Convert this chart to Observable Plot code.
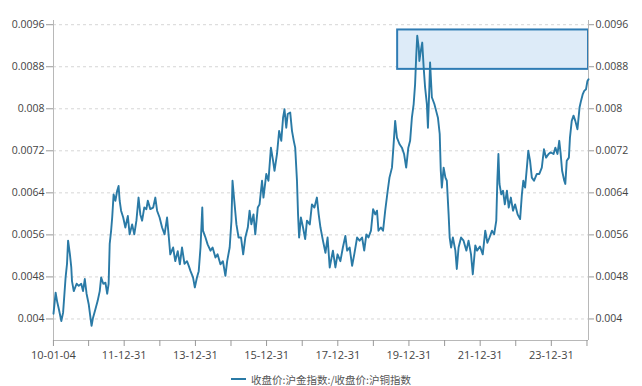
<!DOCTYPE html>
<html><head><meta charset="utf-8">
<script src="https://cdn.jsdelivr.net/npm/d3@7"></script>
<script src="https://cdn.jsdelivr.net/npm/@observablehq/plot@0.6"></script>
<style>
body{margin:0;background:#fff;}
#legend{display:flex;justify-content:center;align-items:center;height:22px;font-family:"Noto Sans CJK SC","Open Sans",sans-serif;font-size:10.5px;color:#555;}
#legend .sw{display:inline-block;width:15px;height:2px;margin-right:5px;}
</style></head><body>
<div id="chart"></div>
<div id="legend"></div>
<script>
// decimal years (one row per year)
const dateYears = [
 2010.01,2010.07,2010.11,2010.16,2010.23,2010.28,2010.35,2010.39,2010.42,2010.47,2010.51,2010.53,2010.58,2010.66,2010.72,2010.79,2010.84,2010.89,2010.94,
 2011.00,2011.05,2011.08,2011.12,2011.19,2011.25,2011.31,2011.35,2011.41,2011.47,2011.52,2011.56,2011.59,2011.63,2011.66,2011.70,2011.75,2011.80,2011.84,2011.87,2011.91,2011.97,
 2012.03,2012.10,2012.15,2012.22,2012.28,2012.34,2012.40,2012.45,2012.50,2012.56,2012.62,2012.66,2012.73,2012.81,2012.87,2012.92,2012.99,
 2013.06,2013.13,2013.20,2013.25,2013.29,2013.37,2013.43,2013.50,2013.56,2013.62,2013.69,2013.76,2013.81,2013.86,2013.93,2013.98,
 2014.04,2014.09,2014.14,2014.19,2014.21,2014.28,2014.34,2014.42,2014.48,2014.56,2014.62,2014.70,2014.77,2014.84,2014.89,2014.96,
 2015.01,2015.04,2015.09,2015.15,2015.21,2015.28,2015.34,2015.40,2015.47,2015.52,2015.57,2015.63,2015.68,2015.75,2015.80,2015.87,2015.91,2015.99,
 2016.05,2016.12,2016.18,2016.22,2016.29,2016.35,2016.41,2016.46,2016.50,2016.55,2016.59,2016.66,2016.71,2016.76,2016.80,2016.85,2016.88,2016.91,2016.96,
 2017.02,2017.08,2017.13,2017.21,2017.27,2017.34,2017.41,2017.46,2017.51,2017.58,2017.65,2017.71,2017.77,2017.86,2017.93,2017.99,
 2018.07,2018.14,2018.21,2018.26,2018.33,2018.40,2018.46,2018.54,2018.61,2018.68,2018.74,2018.80,2018.86,2018.93,2018.99,
 2019.05,2019.10,2019.14,2019.21,2019.27,2019.33,2019.40,2019.45,2019.52,2019.56,2019.61,2019.66,2019.73,2019.80,2019.86,2019.92,2019.98,
 2020.03,2020.08,2020.13,2020.17,2020.20,2020.23,2020.27,2020.29,2020.33,2020.37,2020.41,2020.45,2020.50,2020.53,2020.57,2020.59,2020.64,2020.71,2020.76,2020.81,2020.86,2020.89,2020.92,2020.97,
 2021.02,2021.06,2021.11,2021.14,2021.18,2021.23,2021.30,2021.34,2021.39,2021.46,2021.53,2021.61,2021.67,2021.74,2021.79,2021.86,2021.91,2021.99,
 2022.07,2022.14,2022.20,2022.26,2022.33,2022.39,2022.45,2022.48,2022.51,2022.54,2022.59,2022.64,2022.69,2022.75,2022.80,2022.86,2022.92,2022.98,
 2023.05,2023.12,2023.17,2023.21,2023.26,2023.31,2023.35,2023.40,2023.45,2023.51,2023.59,2023.66,2023.73,2023.79,2023.85,2023.92,2023.98,
 2024.06,2024.11,2024.17,2024.22,2024.26,2024.30,2024.36,2024.39,2024.43,2024.49,2024.52,2024.57,2024.62,2024.67,2024.73,2024.79,2024.83,2024.88,2024.92,2024.97,2025.01,2025.04
];
// 收盘价:沪金指数 / 收盘价:沪铜指数
const ratio = [
 .00410,.00450,.00434,.00419,.00396,.00412,.00479,.00505,.00549,.00524,.00498,.00472,.00453,.00467,.00463,.00467,.00453,.00476,.00448,
 .00428,.00402,.00387,.00402,.00419,.00434,.00453,.00479,.00467,.00469,.00448,.00467,.00543,.00568,.00593,.00637,.00625,.00644,.00653,.00625,.00606,.00593,
 .00574,.00596,.00561,.00580,.00561,.00587,.00631,.00599,.00587,.00612,.00609,.00625,.00609,.00612,.00631,.00606,.00593,
 .00574,.00561,.00593,.00555,.00523,.00536,.00510,.00529,.00504,.00536,.00505,.00510,.00501,.00491,.00479,.00460,
 .00479,.00491,.00536,.00612,.00568,.00555,.00542,.00530,.00536,.00517,.00523,.00504,.00510,.00482,.00510,.00536,
 .00587,.00663,.00625,.00580,.00555,.00555,.00523,.00555,.00574,.00606,.00580,.00599,.00561,.00612,.00618,.00663,.00631,.00676,
 .00663,.00726,.00701,.00682,.00714,.00758,.00739,.00783,.00799,.00764,.00790,.00793,.00758,.00739,.00726,.00663,.00599,.00555,.00593,
 .00574,.00552,.00587,.00580,.00618,.00612,.00631,.00599,.00574,.00549,.00526,.00555,.00498,.00530,.00498,.00523,
 .00510,.00536,.00558,.00530,.00536,.00501,.00523,.00555,.00549,.00555,.00530,.00561,.00555,.00568,.00609,
 .00599,.00606,.00568,.00574,.00568,.00606,.00644,.00669,.00688,.00726,.00777,.00745,.00733,.00726,.00714,.00688,.00726,
 .00739,.00783,.00809,.00847,.00898,.00939,.00917,.00891,.00910,.00926,.00879,.00841,.00809,.00764,.00841,.00888,.00822,.00809,.00796,.00783,.00752,.00682,.00650,.00688,
 .00669,.00663,.00599,.00555,.00536,.00555,.00530,.00495,.00536,.00555,.00549,.00530,.00549,.00523,.00485,.00540,.00530,.00538,
 .00523,.00568,.00545,.00555,.00568,.00561,.00587,.00663,.00714,.00657,.00637,.00644,.00618,.00644,.00612,.00631,.00606,.00618,
 .00599,.00590,.00637,.00663,.00650,.00688,.00720,.00701,.00669,.00663,.00676,.00676,.00688,.00723,.00707,.00714,.00717,
 .00714,.00726,.00714,.00739,.00714,.00682,.00663,.00657,.00701,.00707,.00745,.00777,.00787,.00777,.00761,.00803,.00815,.00828,.00834,.00837,.00853,.00856
];
const seriesName = "收盘价:沪金指数:/收盘价:沪铜指数";
const xTicks = ["2010-01-04","2010-12-31","2011-12-31","2012-12-31","2013-12-31","2014-12-31","2015-12-31","2016-12-31","2017-12-31","2018-12-31","2019-12-31","2020-12-31","2021-12-31","2022-12-31","2023-12-31","2024-12-31"];
const xTickLabels = ["10-01-04","11-12-31","13-12-31","15-12-31","17-12-31","19-12-31","21-12-31","23-12-31"];
const yTicks = [0.004,0.0048,0.0056,0.0064,0.0072,0.008,0.0088,0.0096];
const yDomain = [0.00359,0.00968];
const xDomainYears = [2010.01,2025.04];
const box = {from:2019.68, to:2025.04, low:0.00875, high:0.0095};

const lineColor = "#2a7aa6";
function toDate(y){const yr=Math.floor(y);const s=Date.UTC(yr,0,1),e=Date.UTC(yr+1,0,1);return new Date(s+(y-yr)*(e-s));}
const data = dateYears.map((y,i)=>({date:toDate(y), v:ratio[i]}));
const xStart = toDate(xDomainYears[0]), xEnd = toDate(xDomainYears[1]);
const fmt = d3.utcFormat("%y-%m-%d");
const xFmt = d => {const s=fmt(d);return xTickLabels.includes(s)?s:"";};
const yFmt = d => String(+d.toFixed(4));
const boxData = [{x1:toDate(box.from), x2:toDate(box.to), y1:box.low, y2:box.high}];

const chart = Plot.plot({
  width:642, height:368, marginTop:20, marginBottom:28, marginLeft:53, marginRight:54,
  style:{fontFamily:"'Open Sans','Liberation Sans',sans-serif", fontSize:"11px", background:"#fff"},
  x:{type:"utc", domain:[xStart,xEnd]},
  y:{domain:yDomain},
  marks:[
    Plot.gridY(yTicks,{stroke:"#d6d6d6", strokeOpacity:1, strokeDasharray:"3,3"}),
    Plot.rect(boxData,{x1:"x1",x2:"x2",y1:"y1",y2:"y2",fill:"#ddebf8",stroke:"#2f7cb4",strokeWidth:2}),
    Plot.ruleX([xStart,xEnd],{stroke:"#b8b8b8"}),
    Plot.ruleY([yDomain[0]],{stroke:"#b8b8b8"}),
    Plot.lineY(data,{x:"date",y:"v",stroke:lineColor,strokeWidth:1.9,strokeLinejoin:"round"}),
    Plot.axisX(xTicks.map(s=>new Date(s)),{tickFormat:xFmt,tickSize:6,tickPadding:5,stroke:"#999",fill:"#444",fontSize:11}),
    Plot.axisY(yTicks,{anchor:"left",tickFormat:yFmt,tickSize:7,tickPadding:2,stroke:"#999",fill:"#444",fontSize:10.5}),
    Plot.axisY(yTicks,{anchor:"right",tickFormat:yFmt,tickSize:5,tickPadding:2,stroke:"#999",fill:"#444",fontSize:10.5})
  ]
});
document.getElementById("chart").appendChild(chart);
const lg = document.getElementById("legend");
lg.innerHTML = `<span class="sw" style="background:${lineColor}"></span><span>${seriesName}</span>`;
</script>
</body></html>
